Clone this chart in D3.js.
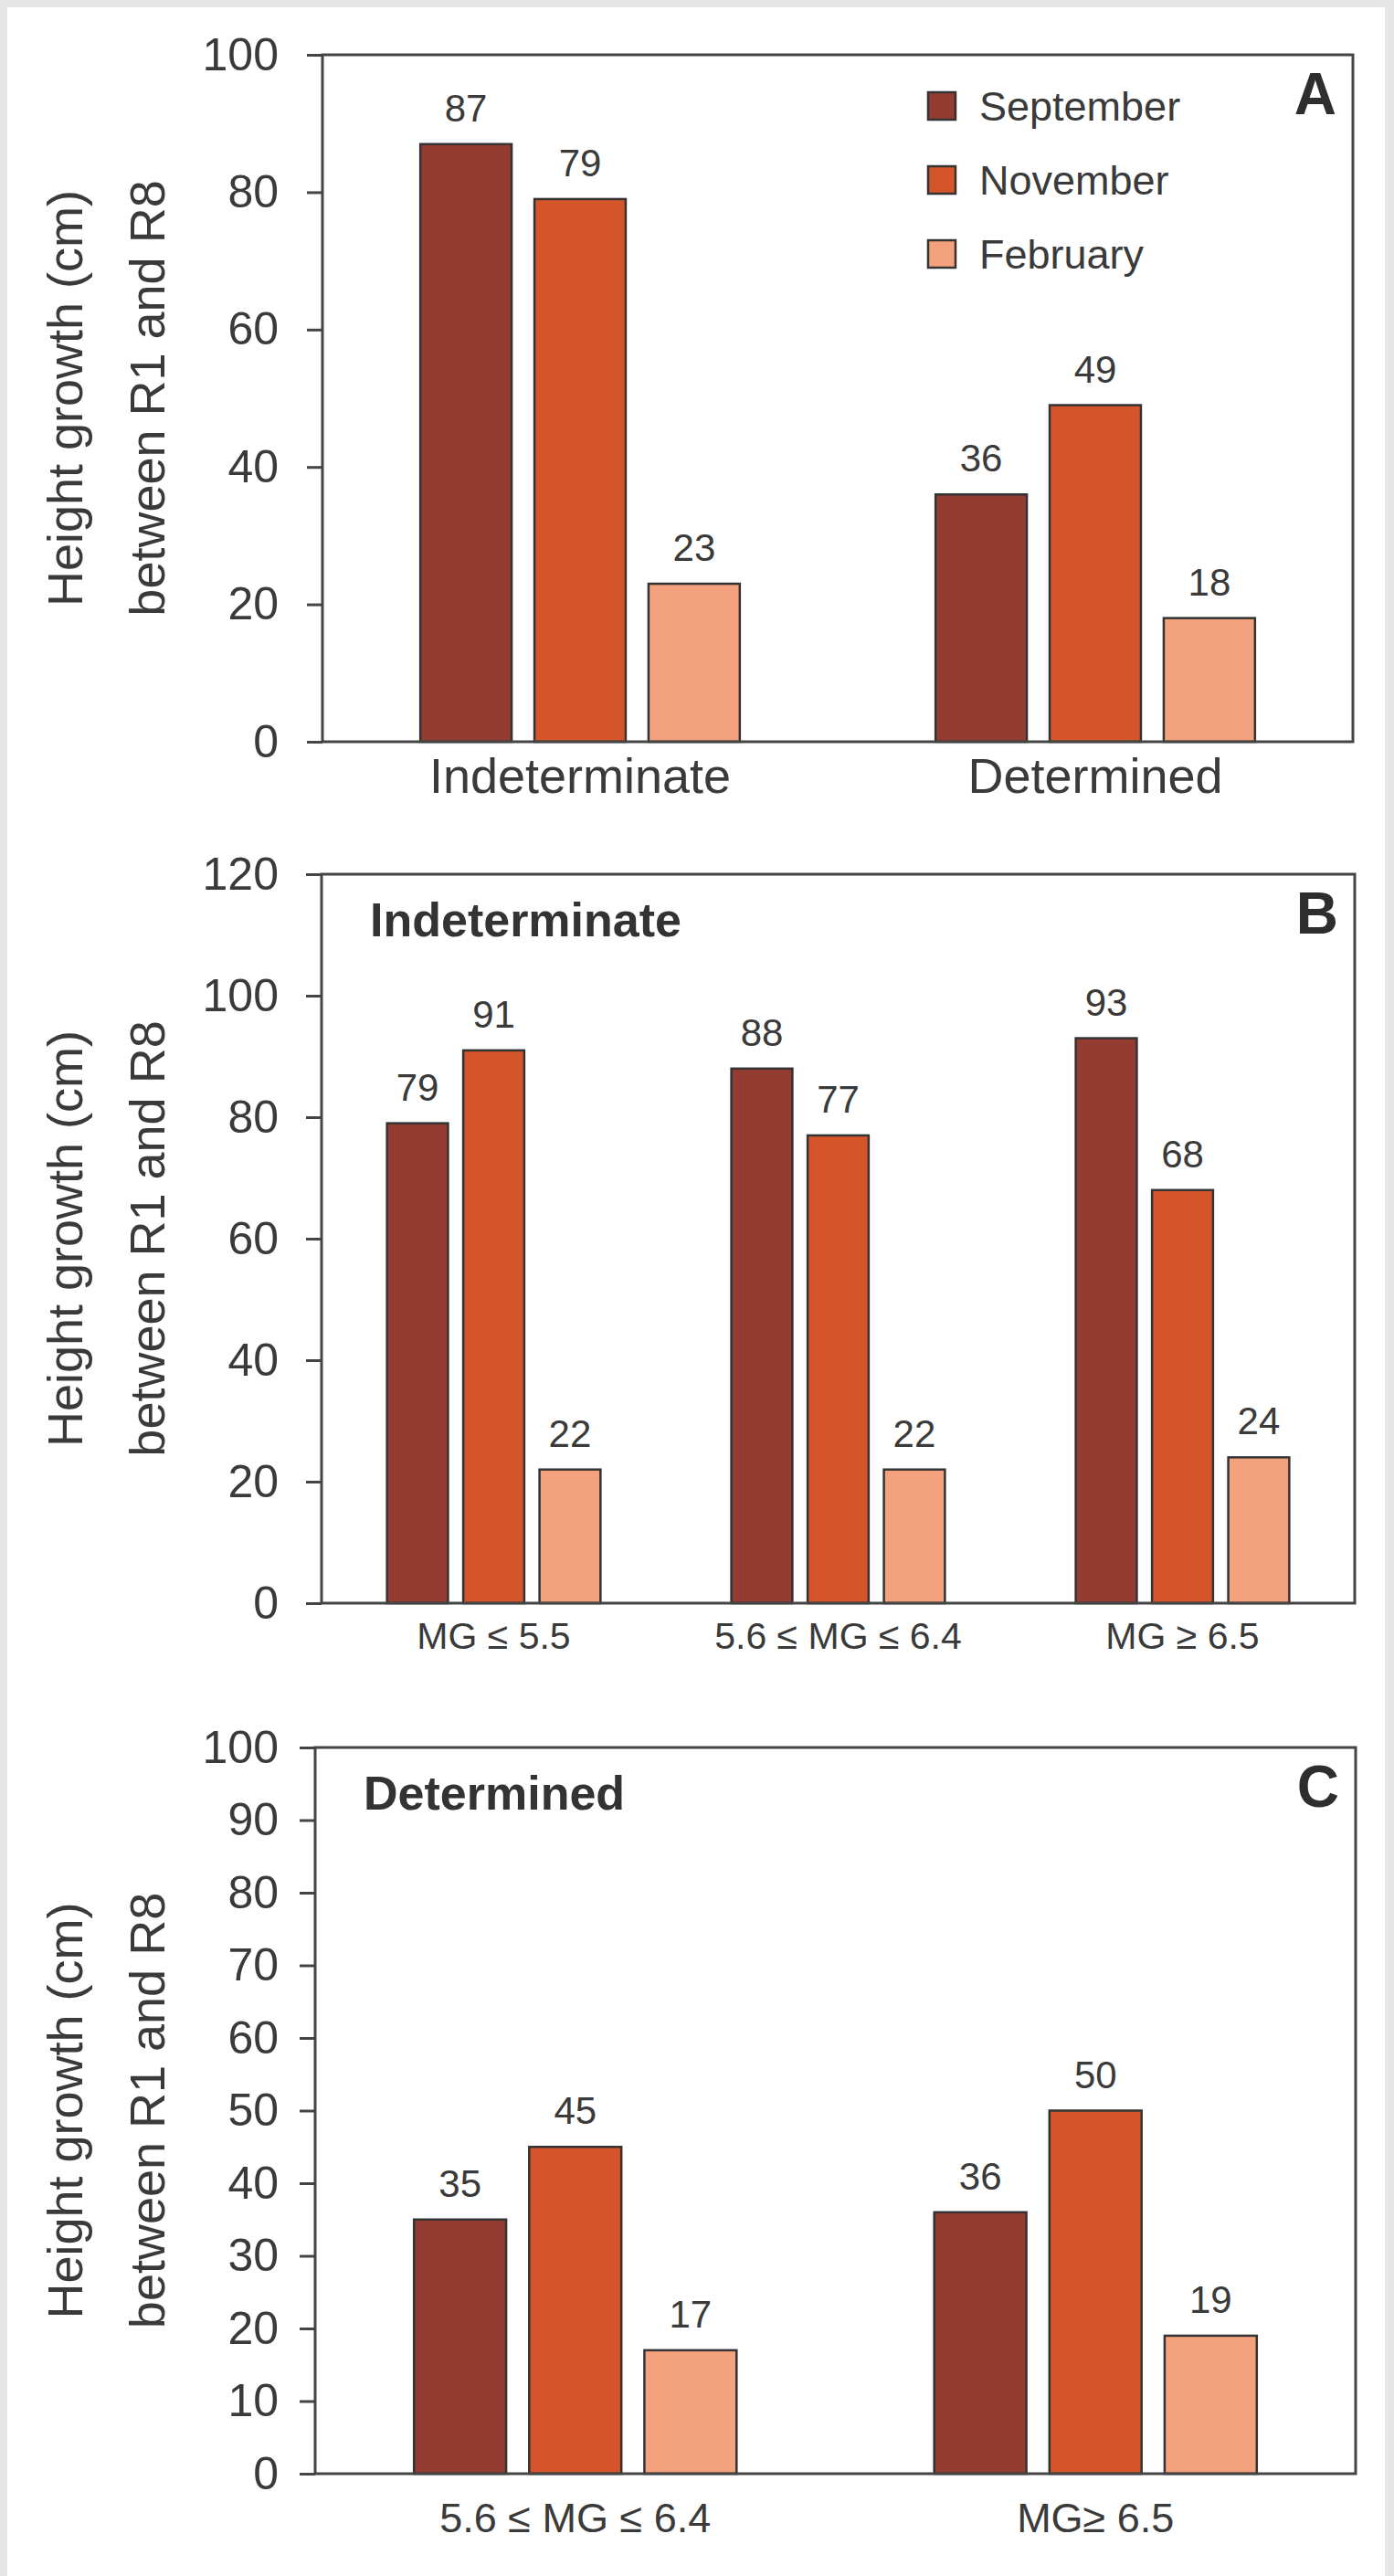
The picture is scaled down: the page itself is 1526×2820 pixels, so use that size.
<!DOCTYPE html>
<html>
<head>
<meta charset="utf-8">
<script src="https://cdn.jsdelivr.net/npm/d3@7"></script>
<style>
  body { margin: 0; background: #fff; }
  svg text { font-family: 'Liberation Sans', Arial, sans-serif; }
</style>
</head>
<body>
<div id="chart"></div>
<script>
// Series (sowing months) and their colours
const months = ['September', 'November', 'February']
const monthColors = ['#943b32', '#d5552b', '#f4a27d']

// Panel A - by growth habit
const groupsA = ['Indeterminate', 'Determined']
const septA = [87, 36]
const novA = [79, 49]
const febA = [23, 18]
const ticksA = [0, 20, 40, 60, 80, 100]

// Panel B - indeterminate, by maturity group
const groupsB = ['MG ≤ 5.5', '5.6 ≤ MG ≤ 6.4', 'MG ≥ 6.5']
const septB = [79, 88, 93]
const novB = [91, 77, 68]
const febB = [22, 22, 24]
const ticksB = [0, 20, 40, 60, 80, 100, 120]

// Panel C - determined, by maturity group
const groupsC = ['5.6 ≤ MG ≤ 6.4', 'MG≥ 6.5']
const septC = [35, 36]
const novC = [45, 50]
const febC = [17, 19]
const ticksC = [0, 10, 20, 30, 40, 50, 60, 70, 80, 90, 100]

const yTitle = ['Height growth (cm)', 'between R1 and R8']

const W = 1526
const H = 2820
const textColor = '#3a3a3a'
const lineColor = '#444'

let svg = d3.select('#chart')
    .append('svg')
    .attr('width', W)
    .attr('height', H)

// the scanned page has a light grey edge
svg.append('rect').attr('x', 0).attr('y', 0).attr('width', W).attr('height', H).attr('fill', '#e6e6e6')
svg.append('rect').attr('x', 8).attr('y', 8).attr('width', W - 18).attr('height', H - 8).attr('fill', '#fff')

function drawPanel (o) {
    let g = svg.append('g')

    let y = d3.scaleLinear()
        .domain([0, o.max])
        .range([o.bottom, o.top])

    // outer band = group, inner band = month
    let x0 = d3.scaleBand()
        .domain(o.groups)
        .range([o.left, o.right])
        .paddingInner(0.38)
        .paddingOuter(0.19)

    let x1 = d3.scaleBand()
        .domain(months)
        .range([0, x0.bandwidth()])
        .paddingInner(0.2)

    let rows = o.groups.map((grp, gi) => ({
        group: grp,
        bars: months.map((m, i) => ({ month: m, value: o.series[i][gi], color: monthColors[i] }))
    }))

    let groupSel = g.selectAll('g.group')
        .data(rows)
        .enter().append('g')
        .attr('class', 'group')
        .attr('transform', d => 'translate(' + x0(d.group) + ',0)')

    groupSel.selectAll('rect')
        .data(d => d.bars)
        .enter().append('rect')
        .attr('x', d => x1(d.month))
        .attr('y', d => y(d.value))
        .attr('width', x1.bandwidth())
        .attr('height', d => y(0) - y(d.value))
        .attr('fill', d => d.color)
        .attr('stroke', '#333')
        .attr('stroke-width', 2.5)

    // value labels above the bars
    groupSel.selectAll('text.val')
        .data(d => d.bars)
        .enter().append('text')
        .attr('class', 'val')
        .attr('x', d => x1(d.month) + x1.bandwidth() / 2)
        .attr('y', d => y(d.value) - 25)
        .attr('text-anchor', 'middle')
        .attr('font-size', 42)
        .attr('fill', textColor)
        .text(d => d3.format('d')(d.value))

    // frame
    g.append('rect')
        .attr('x', o.left)
        .attr('y', o.top)
        .attr('width', o.right - o.left)
        .attr('height', o.bottom - o.top)
        .attr('fill', 'none')
        .attr('stroke', lineColor)
        .attr('stroke-width', 3)

    // y axis, outward ticks
    let yAxis = g.append('g')
        .attr('transform', 'translate(' + o.left + ',0)')
        .call(d3.axisLeft(y).tickValues(o.ticks).tickSize(17).tickPadding(o.left - 17 - 305))
    yAxis.select('.domain').remove()
    yAxis.selectAll('line').attr('stroke', lineColor).attr('stroke-width', 3)
    yAxis.selectAll('text')
        .attr('font-size', 50)
        .attr('font-family', null)
        .attr('fill', textColor)

    // category labels
    let xAxis = g.append('g')
        .attr('transform', 'translate(0,' + o.bottom + ')')
        .call(d3.axisBottom(x0).tickSize(0).tickPadding(o.catPad))
    xAxis.select('.domain').remove()
    xAxis.selectAll('text')
        .attr('font-size', o.catFont)
        .attr('font-family', null)
        .attr('fill', textColor)

    // y axis title on two lines
    let cy = (o.top + o.bottom) / 2
    yTitle.forEach((t, i) => {
        g.append('text')
            .attr('transform', 'translate(' + (90 + i * 90) + ',' + cy + ') rotate(-90)')
            .attr('text-anchor', 'middle')
            .attr('font-size', 54)
            .attr('fill', textColor)
            .text(t)
    })

    // panel letter
    g.append('text')
        .attr('x', o.right - 18)
        .attr('y', o.top + 65)
        .attr('text-anchor', 'end')
        .attr('font-size', 64)
        .attr('font-weight', 'bold')
        .attr('fill', '#2e2e2e')
        .text(o.tag)

    if (o.subtitle) {
        g.append('text')
            .attr('x', o.left + 53)
            .attr('y', o.top + 68)
            .attr('font-size', 52)
            .attr('font-weight', 'bold')
            .attr('fill', '#333')
            .text(o.subtitle)
    }

    if (o.legend) {
        let leg = g.append('g')
            .attr('transform', 'translate(1016,' + (o.top + 56) + ')')
        let item = leg.selectAll('g')
            .data(months)
            .enter().append('g')
            .attr('transform', (d, i) => 'translate(0,' + i * 81 + ')')
        item.append('rect')
            .attr('x', 0)
            .attr('y', -15)
            .attr('width', 30)
            .attr('height', 30)
            .attr('fill', (d, i) => monthColors[i])
            .attr('stroke', '#333')
            .attr('stroke-width', 2.5)
        item.append('text')
            .attr('x', 56)
            .attr('dy', '0.35em')
            .attr('font-size', 45)
            .attr('fill', textColor)
            .text(d => d)
    }
}

drawPanel({
    groups: groupsA, series: [septA, novA, febA], ticks: ticksA, max: 100,
    left: 353, right: 1481, top: 60, bottom: 812,
    catFont: 54, catPad: 18, tag: 'A', legend: true
})

drawPanel({
    groups: groupsB, series: [septB, novB, febB], ticks: ticksB, max: 120,
    left: 352, right: 1483, top: 957, bottom: 1755,
    catFont: 41, catPad: 21, tag: 'B', subtitle: 'Indeterminate'
})

drawPanel({
    groups: groupsC, series: [septC, novC, febC], ticks: ticksC, max: 100,
    left: 345, right: 1484, top: 1913, bottom: 2708,
    catFont: 45, catPad: 32, tag: 'C', subtitle: 'Determined'
})
</script>
</body>
</html>
